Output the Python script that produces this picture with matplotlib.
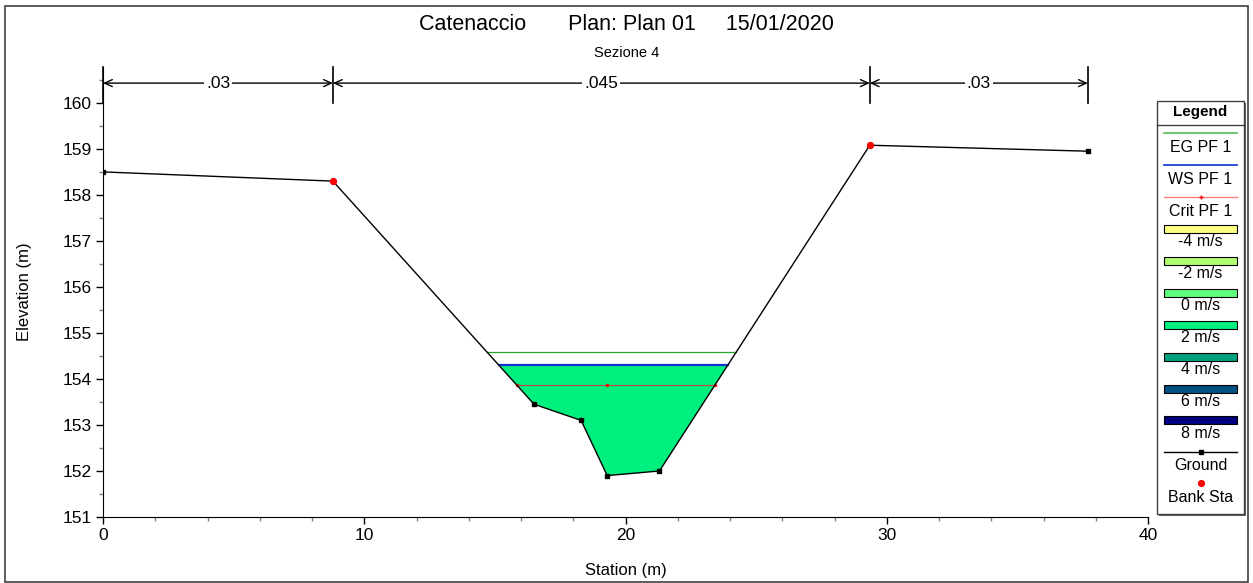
import numpy as np
import matplotlib
matplotlib.use("Agg")
import matplotlib.pyplot as plt
from matplotlib.patches import Rectangle, Polygon
from matplotlib.ticker import MultipleLocator

plt.rcParams['font.family'] = ['Liberation Sans', 'DejaVu Sans']

# Cross-section geometry
station = [0.0, 8.8, 16.5, 18.3, 19.3, 21.3, 29.35, 37.7]
elevation = [158.5, 158.3, 153.45, 153.1, 151.9, 152.0, 159.08, 158.95]
bank_sta = [8.8, 29.35]

# Manning's n regions
n_breaks = [0.0, 8.8, 29.35, 37.7]
n_values = [".03", ".045", ".03"]

# Profile PF 1 results
eg_elev = 154.59
ws_elev = 154.30
crit_elev = 153.86

legend_labels = ["EG PF 1", "WS PF 1", "Crit PF 1"]
vel_labels = ["-4 m/s", "-2 m/s", "0 m/s", "2 m/s", "4 m/s", "6 m/s", "8 m/s"]
vel_colors = ["#FFFF80", "#B0FF70", "#60FF80", "#00F080", "#00A080", "#005080", "#000080"]
flow_color = vel_colors[3]

title = "Catenaccio       Plan: Plan 01     15/01/2020"
subtitle = "Sezione 4"

W, H = 1253, 583
fig = plt.figure(figsize=(W / 100, H / 100), dpi=100)


def fx(px):
    return px / W


def fy(py):
    return 1 - py / H


ax = fig.add_axes([fx(103), fy(517), fx(1148 - 103), (517 - 67) / H])
ax.set_xlim(0, 40)
ax.set_ylim(151, 160.78)
for s in ("top", "right"):
    ax.spines[s].set_visible(False)
ax.xaxis.set_major_locator(MultipleLocator(10))
ax.xaxis.set_minor_locator(MultipleLocator(2))
ax.yaxis.set_minor_locator(MultipleLocator(0.5))
ax.set_yticks(np.arange(151, 160.5, 1))
ax.tick_params(axis="both", which="major", direction="out", length=5, width=1,
               labelsize=12.5, color="black", pad=3)
ax.tick_params(axis="both", which="minor", direction="out", length=3, width=1,
               color="#808080")
ax.set_xlabel("Station (m)", fontsize=12, labelpad=14)
ax.set_ylabel("Elevation (m)", fontsize=12, labelpad=22)

st = np.array(station)
el = np.array(elevation)


def crossings(level):
    """Stations where the ground line crosses a given elevation."""
    pts = []
    for i in range(len(st) - 1):
        e0, e1 = el[i] - level, el[i + 1] - level
        if e0 == 0:
            pts.append(st[i])
        elif e0 * e1 < 0:
            pts.append(st[i] + (st[i + 1] - st[i]) * e0 / (e0 - e1))
    return pts


# Wetted area below the water surface
ws_x = crossings(ws_elev)
xl, xr = ws_x[0], ws_x[-1]
inside = (st > xl) & (st < xr)
poly_x = [xl] + list(st[inside]) + [xr]
poly_y = [ws_elev] + list(el[inside]) + [ws_elev]
ax.add_patch(Polygon(np.column_stack([poly_x, poly_y]), closed=True,
                     facecolor=flow_color, edgecolor="none", zorder=2))

# Energy grade, water surface, critical depth
eg_x = crossings(eg_elev)
ax.plot([eg_x[0], eg_x[-1]], [eg_elev, eg_elev], color="#22AA22", lw=0.9, zorder=3)
ax.plot([xl, xr], [ws_elev, ws_elev], color="#1030D0", lw=1.6, zorder=3)
cr_x = crossings(crit_elev)
thalweg = st[np.argmin(el)]
ax.plot([cr_x[0], cr_x[-1]], [crit_elev, crit_elev], color="#C04040", lw=0.8, zorder=3)
ax.plot([cr_x[0], thalweg, cr_x[-1]], [crit_elev] * 3, ls="none", marker="o",
        ms=2.5, mew=0, color="red", zorder=4)

# Ground and bank stations
ax.plot(st, el, color="black", lw=1.0, marker="s", ms=3.5, zorder=5)
bank_el = np.interp(bank_sta, st, el)
ax.plot(bank_sta, bank_el, ls="none", marker="o", ms=4.2, color="red", zorder=6)

# Manning's n dimension lines
y_arrow = 160.43
y_bar_lo, y_bar_hi = 160.0, 160.78
for b in n_breaks:
    ax.plot([b, b], [y_bar_lo, y_bar_hi], color="black", lw=1.2, clip_on=False, zorder=6)
for i, lab in enumerate(n_values):
    a, b = n_breaks[i], n_breaks[i + 1]
    ax.annotate("", xy=(a, y_arrow), xytext=(b, y_arrow),
                arrowprops=dict(arrowstyle="<->,head_length=0.55,head_width=0.25",
                                lw=1.0, color="black", shrinkA=0, shrinkB=0),
                annotation_clip=False, zorder=6)
    ax.text((a + b) / 2, y_arrow, lab, ha="center", va="center", fontsize=12.5,
            bbox=dict(facecolor="white", edgecolor="none", pad=1.5), zorder=7)

# Titles
fig.text(0.5, fy(25), title, ha="center", va="center", fontsize=15.5)
fig.text(0.5, fy(53), subtitle, ha="center", va="center", fontsize=10.5)

# Outer frame
fig.patches.append(Rectangle((fx(5), fy(582)), fx(1248 - 5), (582 - 6) / H,
                             transform=fig.transFigure, fill=False,
                             edgecolor="#404040", lw=1.2))

# Legend panel, laid out in pixel units
lg = fig.add_axes([0, 0, 1, 1], zorder=10)
lg.set_xlim(0, W)
lg.set_ylim(H, 0)
lg.axis("off")
L, R, T, B = 1157, 1244, 101, 514
lg.add_patch(Rectangle((L + 2, T + 2), R - L, B - T, facecolor="#606060", edgecolor="none"))
lg.add_patch(Rectangle((L, T), R - L, B - T, facecolor="white", edgecolor="#404040", lw=1.0))
lg.plot([L, R], [125, 125], color="#404040", lw=1.0)
cx = (L + R) / 2
lg.text(cx, 112, "Legend", ha="center", va="center", fontsize=11, fontweight="bold")

line_rows = [133, 165, 197]
line_styles = [dict(color="#55BB55", lw=1.2), dict(color="#1030D0", lw=1.2),
               dict(color="#FF8080", lw=1.0)]
for yv, lab, sty in zip(line_rows, legend_labels, line_styles):
    lg.plot([1164, 1237], [yv, yv], **sty)
    lg.text(cx, yv + 14, lab, ha="center", va="center", fontsize=11.5)
lg.plot([cx], [197], marker="+", color="red", ms=3, mew=1)

for k, (lab, col) in enumerate(zip(vel_labels, vel_colors)):
    top = 225 + k * 31.9
    lg.add_patch(Rectangle((1164, top), 73, 8, facecolor=col, edgecolor="black", lw=0.8))
    lg.text(cx, top + 17, lab, ha="center", va="center", fontsize=11.5)

lg.plot([1164, 1237], [452, 452], color="black", lw=1.0)
lg.plot([cx], [452], marker="s", color="black", ms=3.5)
lg.text(cx, 466, "Ground", ha="center", va="center", fontsize=11.5)
lg.plot([cx], [483], marker="o", color="red", ms=4.2)
lg.text(cx, 498, "Bank Sta", ha="center", va="center", fontsize=11.5)

fig.savefig("out.png", dpi=100)
